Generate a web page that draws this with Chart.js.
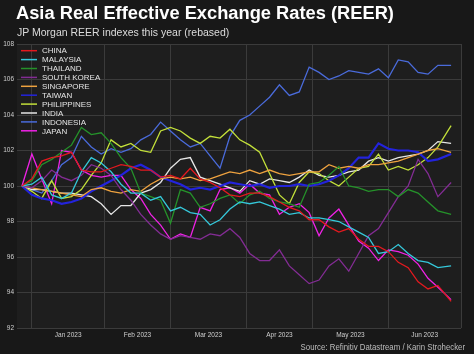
<!DOCTYPE html>
<html>
<head>
<meta charset="utf-8">
<script src="https://cdn.jsdelivr.net/npm/chart.js@4.4.1/dist/chart.umd.min.js"></script>
<style>
  body { margin: 0; background: #181818; }
  #wrap { position: relative; width: 474px; height: 354px; background: #181818; overflow: hidden; }
  #chart { position: absolute; left: 0; top: 0; }
  .txt { position: absolute; font-family: "Liberation Sans", Arial, sans-serif; white-space: nowrap; line-height: normal; }
  #title { left: 16px; top: 2px; font-size: 18.3px; font-weight: bold; color: #ffffff; }
  #subtitle { left: 17px; top: 26px; font-size: 10.5px; color: #dcdcdc; }
  #source { right: 9px; top: 342px; font-size: 9px; color: #bdbdbd; transform: scaleX(0.87); transform-origin: right center; }
</style>
</head>
<body>
<div id="wrap">
  <canvas id="chart" width="474" height="354"></canvas>
  <div class="txt" id="title">Asia Real Effective Exchange Rates (REER)</div>
  <div class="txt" id="subtitle">JP Morgan REER indexes this year (rebased)</div>
  <div class="txt" id="source">Source: Refinitiv Datastream / Karin Strohecker</div>
</div>
<script>
// business days counted from 1 Jan 2023
const days = [-3, 0, 3, 6, 9, 12, 15, 18, 21, 24, 27, 30, 33, 36, 39, 42, 45, 48, 51, 54, 57, 60,
  63, 66, 69, 72, 75, 78, 81, 84, 87, 90, 93, 96, 99, 102, 105, 108, 111, 114, 117, 120, 123, 127]

const monthEdges = [0, 22, 42, 65, 85, 108, 130]
const monthMids = [11, 32, 53.5, 75, 96.5, 119]
const monthLabels = ['Jan 2023', 'Feb 2023', 'Mar 2023', 'Apr 2023', 'May 2023', 'Jun 2023']

const china = [100, 100.4, 101.4, 101.6, 101.7, 101.9, 100.9, 100.8, 100.8, 101.0,
  101.2, 101.1, 100.9, 100.9, 100.5, 100.6, 100.4, 101.0, 100.4, 100.2,
  99.9, 99.5, 99.4, 99.6, 99.6, 99.4, 99.1, 98.8, 98.6, 98.1,
  98.1, 97.7, 97.4, 97.6, 97.0, 96.6, 96.6, 96.3, 95.7, 95.4,
  94.6, 94.2, 94.4, 93.5]
const malaysia = [100, 100.1, 100.5, 99.5, 99.3, 99.6, 100.8, 101.6, 101.3, 100.8,
  100.1, 99.6, 99.6, 99.2, 99.4, 98.6, 98.8, 98.5, 98.4, 97.8,
  98.1, 98.7, 99.1, 99.0, 99.1, 98.9, 98.7, 98.4, 98.5, 98.2,
  98.2, 98.1, 98.0, 97.7, 97.4, 97.1, 96.2, 96.3, 96.7, 96.2,
  95.8, 95.7, 95.4, 95.5]
const thailand = [100, 100.3, 101.2, 101.5, 101.9, 102.3, 103.3, 102.9, 103.0, 102.4,
  101.6, 101.0, 99.6, 99.4, 99.2, 97.9, 99.8, 99.6, 98.8, 99.0,
  99.3, 99.5, 99.0, 99.5, 99.7, 99.3, 99.1, 99.0, 98.8, 100.1,
  100.2, 100.6, 101.1, 100.0, 99.9, 99.7, 99.8, 99.8, 99.4, 99.8,
  99.6, 99.1, 98.6, 98.4]
const southKorea = [100, 99.9, 100.3, 100.9, 100.5, 100.3, 100.6, 101.2, 101.0, 100.6,
  99.8, 99.2, 98.4, 97.8, 97.3, 97.0, 97.2, 97.1, 97.0, 97.3,
  97.2, 97.6, 97.1, 96.2, 95.8, 95.8, 96.4, 95.5, 95.0, 94.5,
  94.7, 95.5, 95.9, 95.2, 96.2, 97.2, 97.6, 98.5, 99.4, 100.0,
  101.5, 100.7, 99.4, 100.2]
const singapore = [100, 99.9, 99.8, 99.7, 99.6, 99.5, 99.4, 99.8, 99.9, 99.7,
  99.6, 99.8, 99.7, 100.1, 100.4, 100.5, 100.4, 100.5, 100.3, 100.4,
  100.6, 100.8, 100.7, 100.9, 100.7, 100.9, 100.7, 100.6, 100.7, 100.8,
  100.8, 101.2, 101.0, 101.1, 101.0, 101.2, 101.2, 101.3, 101.4, 101.6,
  101.8, 102.0, 102.1, 101.9]
const taiwan = [100, 99.5, 99.3, 99.2, 99.0, 99.1, 99.3, 99.7, 100.0, 100.3,
  100.6, 101.0, 101.2, 100.9, 100.5, 100.3, 100.1, 99.8, 99.9, 99.8,
  100.0, 100.2, 100.1, 100.0, 100.1, 99.9, 100.0, 100.0, 100.1, 100.0,
  100.1, 100.3, 100.6, 101.0, 101.6, 101.6, 102.4, 102.1, 102.0, 102.0,
  101.9, 101.4, 101.5, 101.8]
const philippines = [100, 99.7, 99.3, 100.3, 99.3, 99.4, 99.8, 100.6, 101.3, 102.6,
  102.2, 102.4, 102.0, 101.9, 103.1, 103.3, 103.1, 102.7, 102.4, 102.8,
  102.7, 103.2, 102.6, 102.3, 101.9, 100.7, 99.5, 99.0, 100.2, 100.8,
  100.7, 100.3, 100.0, 100.5, 101.0, 101.1, 101.8, 100.9, 101.1, 100.9,
  101.2, 101.6, 102.2, 103.4]
const india = [100, 99.8, 99.8, 99.7, 99.6, 99.6, 99.5, 99.4, 99.0, 98.4,
  98.9, 98.9, 99.6, 99.8, 100.2, 101.0, 101.5, 101.6, 100.5, 100.3,
  100.1, 99.9, 99.7, 100.3, 100.1, 100.4, 100.3, 100.2, 100.5, 100.9,
  100.6, 100.5, 100.6, 100.8, 100.9, 101.4, 101.6, 101.4, 101.6, 101.7,
  101.8, 102.0, 102.5, 102.4]
const indonesia = [100, 99.8, 99.6, 100.3, 101.2, 101.6, 102.8, 102.2, 101.8, 102.1,
  101.9, 102.1, 102.6, 102.9, 103.6, 103.1, 102.6, 102.2, 102.4, 101.7,
  101.0, 102.8, 103.7, 104.0, 104.5, 105.0, 105.7, 105.1, 105.3, 106.7,
  106.4, 106.0, 106.2, 106.5, 106.4, 106.3, 106.6, 106.1, 107.1, 107.0,
  106.4, 106.3, 106.8, 106.8]
const japan = [100, 101.8, 100.4, 99.0, 102.0, 101.9, 100.9, 100.6, 100.5, 100.6,
  100.6, 99.8, 99.3, 98.4, 97.8, 97.0, 97.3, 97.1, 98.8, 98.6,
  99.8, 99.9, 99.6, 100.1, 99.6, 99.5, 98.4, 98.8, 99.0, 98.5,
  97.2, 98.2, 98.7, 97.8, 96.9, 96.5, 95.8, 96.4, 96.3, 96.1,
  95.6, 94.8, 94.3, 93.6]

const series = [
  { label: 'CHINA', values: china, color: '#e3191f' },
  { label: 'MALAYSIA', values: malaysia, color: '#35c8da' },
  { label: 'THAILAND', values: thailand, color: '#25922a' },
  { label: 'SOUTH KOREA', values: southKorea, color: '#832c94' },
  { label: 'SINGAPORE', values: singapore, color: '#eea23f' },
  { label: 'TAIWAN', values: taiwan, color: '#2323dc', width: 2.2 },
  { label: 'PHILIPPINES', values: philippines, color: '#c3e03a' },
  { label: 'INDIA', values: india, color: '#e6e6e6' },
  { label: 'INDONESIA', values: indonesia, color: '#4a6bdb' },
  { label: 'JAPAN', values: japan, color: '#f022e6' },
]

const gridColor = '#3b3b3b'
const fontFamily = '"Liberation Sans", Arial, sans-serif'

const plotBackground = {
  id: 'plotBackground',
  beforeDraw(chart) {
    const { ctx, chartArea } = chart
    ctx.save()
    ctx.fillStyle = '#1e1e1e'
    ctx.fillRect(chartArea.left, chartArea.top, chartArea.right - chartArea.left, chartArea.bottom - chartArea.top)
    ctx.restore()
  },
}

// legend sits inside the plot, top left
const insideLegend = {
  id: 'insideLegend',
  afterDatasetsDraw(chart) {
    const { ctx, chartArea } = chart
    ctx.save()
    ctx.font = '8px ' + fontFamily
    ctx.textBaseline = 'middle'
    chart.data.datasets.forEach((ds, i) => {
      const y = chartArea.top + 6.7 + i * 8.9
      ctx.strokeStyle = ds.borderColor
      ctx.lineWidth = 1.5
      ctx.beginPath()
      ctx.moveTo(chartArea.left + 4, y)
      ctx.lineTo(chartArea.left + 20, y)
      ctx.stroke()
      ctx.fillStyle = '#e4e4e4'
      ctx.fillText(ds.label, chartArea.left + 25, y + 0.5)
    })
    ctx.restore()
  },
}

new Chart(document.getElementById('chart'), {
  type: 'line',
  data: {
    datasets: series.map((s) => ({
      label: s.label,
      data: s.values.map((v, i) => ({ x: days[i], y: v })),
      borderColor: s.color,
      backgroundColor: s.color,
      borderWidth: s.width || 1.3,
      pointRadius: 0,
      tension: 0,
      fill: false,
    })),
  },
  options: {
    responsive: false,
    animation: false,
    devicePixelRatio: 1,
    layout: { padding: { top: 44, right: 13, left: 0, bottom: 0 } },
    plugins: {
      legend: { display: false },
      tooltip: { enabled: false },
    },
    scales: {
      x: {
        type: 'linear',
        min: -4.5,
        max: 130,
        afterBuildTicks: (scale) => {
          scale.ticks = [...monthEdges, ...monthMids].sort((a, b) => a - b).map((v) => ({ value: v }))
        },
        afterFit: (scale) => { scale.height = 26 },
        grid: {
          color: (c) => (c.tick && monthEdges.includes(c.tick.value) ? gridColor : 'rgba(0,0,0,0)'),
          lineWidth: 1,
          drawTicks: false,
        },
        border: { display: false },
        ticks: {
          autoSkip: false,
          maxRotation: 0,
          padding: 3,
          color: '#cfcfcf',
          font: { family: fontFamily, size: 6.5 },
          callback: (value) => {
            const i = monthMids.indexOf(value)
            return i >= 0 ? monthLabels[i] : ''
          },
        },
      },
      y: {
        min: 92,
        max: 108,
        afterFit: (scale) => { scale.width = 17 },
        grid: { color: gridColor, lineWidth: 1, drawTicks: false },
        border: { display: false },
        ticks: {
          stepSize: 2,
          padding: 3,
          color: '#cfcfcf',
          font: { family: fontFamily, size: 6.5 },
        },
      },
    },
  },
  plugins: [plotBackground, insideLegend],
})
</script>
</body>
</html>
